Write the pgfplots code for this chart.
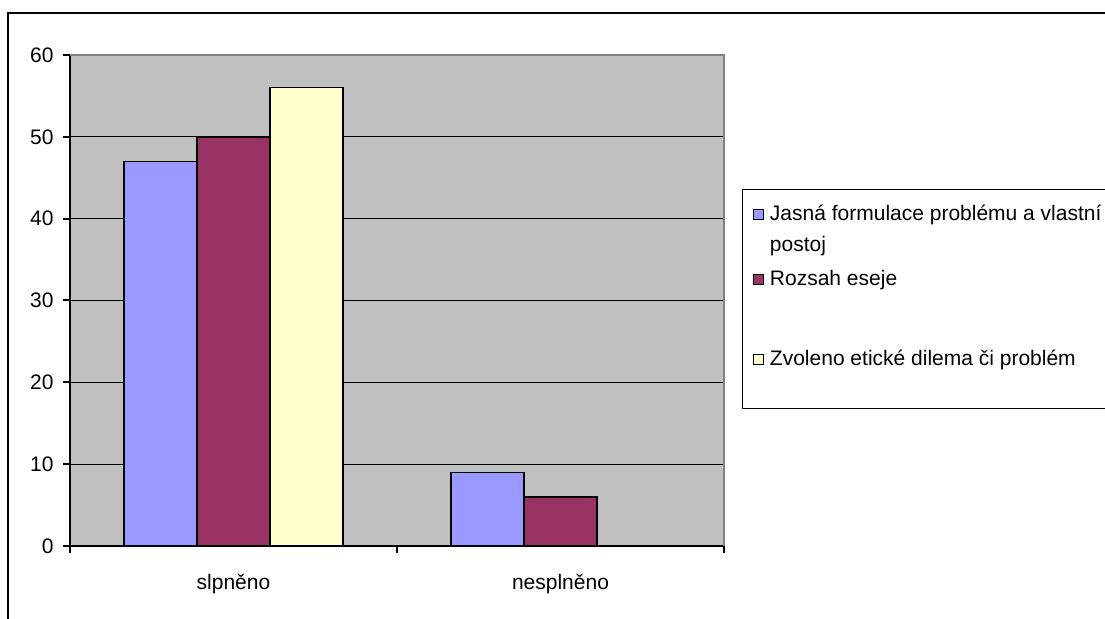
\documentclass[border=0pt]{standalone}
\usepackage{fontspec}
\setmainfont{Liberation Sans}
\usepackage{pgfplots}
\pgfplotsset{compat=1.18}

\definecolor{barblue}{HTML}{9999FF}
\definecolor{barplum}{HTML}{993366}
\definecolor{barcream}{HTML}{FFFFCC}
\definecolor{plotgray}{HTML}{C0C0C0}
\definecolor{edgegray}{HTML}{808080}

% square legend swatch, drawn just above the text baseline
\pgfplotsset{sqlegend/.style={legend image code/.code={%
  \path (0pt,0pt);
  \draw[##1, draw=black, line width=0.5pt] (5pt,0.5pt) rectangle (10pt,5.5pt);}}}

\newcommand{\chartfont}{\fontsize{10.5}{12.6}\selectfont}

\begin{document}
\begin{tikzpicture}[font=\chartfont]
\useasboundingbox (0,0) rectangle (552.5pt,309.5pt);
\clip (0,0) rectangle (552.5pt,309.5pt);
% outer chart frame
\draw[line width=0.75pt] (4pt,-5pt) -- (4pt,303pt) -- (560pt,303pt);
\begin{axis}[
  at={(35pt,36.5pt)}, anchor=south west,
  scale only axis, width=327pt, height=245.5pt,
  ybar=0pt, bar width=36.5pt,
  every axis plot post/.append style={sqlegend},
  xmin=-0.5, xmax=1.5, ymin=0, ymax=60,
  ytick={0,10,...,60},
  xtick={-0.5,0.5,1.5}, xticklabels={},
  extra x ticks={0,1},
  extra x tick labels={slpněno,nesplněno},
  extra x tick style={major tick length=0pt},
  axis lines*=left,
  axis line style={-, line width=1pt, black},
  tick align=outside, major tick length=3.5pt,
  tick style={black, line width=1pt},
  ymajorgrids, grid style={black, line width=0.6pt},
  axis background/.style={fill=plotgray},
  clip=false,
  /pgf/number format/assume math mode=true,
  tick label style={font=\chartfont},
  yticklabel style={inner sep=0pt, xshift=-4.5pt},
  xticklabel style={anchor=base, inner sep=0pt, yshift=-22pt},
  legend style={at={(axis description cs:1.0275,0.7271)}, anchor=north west,
    draw=black, line width=0.75pt, fill=white, inner sep=0pt,
    row sep=0pt, column sep=3pt,
    cells={anchor=base west}, nodes={inner sep=0pt},
    font=\chartfont},
]
\addplot[fill=barblue, draw=black, line width=0.75pt] coordinates {(0,47) (1,9)};
\addlegendentry[text height=15.5pt, text depth=24.5pt]{\parbox[t]{200pt}{\fontsize{10.5}{15.5}\selectfont Jasná formulace problému a vlastní\\postoj}}
\addplot[fill=barplum, draw=black, line width=0.75pt] coordinates {(0,50) (1,6)};
\addlegendentry[text height=8pt, text depth=32pt]{Rozsah eseje}
\addplot[fill=barcream, draw=black, line width=0.75pt] coordinates {(0,56)};
\addlegendentry[text height=8pt, text depth=21.5pt]{Zvoleno etické dilema či problém}
% plot-area border on the top and right
\draw[edgegray, line width=0.75pt] (rel axis cs:0,1) -- (rel axis cs:1,1) -- (rel axis cs:1,0);
\end{axis}
\end{tikzpicture}
\end{document}
